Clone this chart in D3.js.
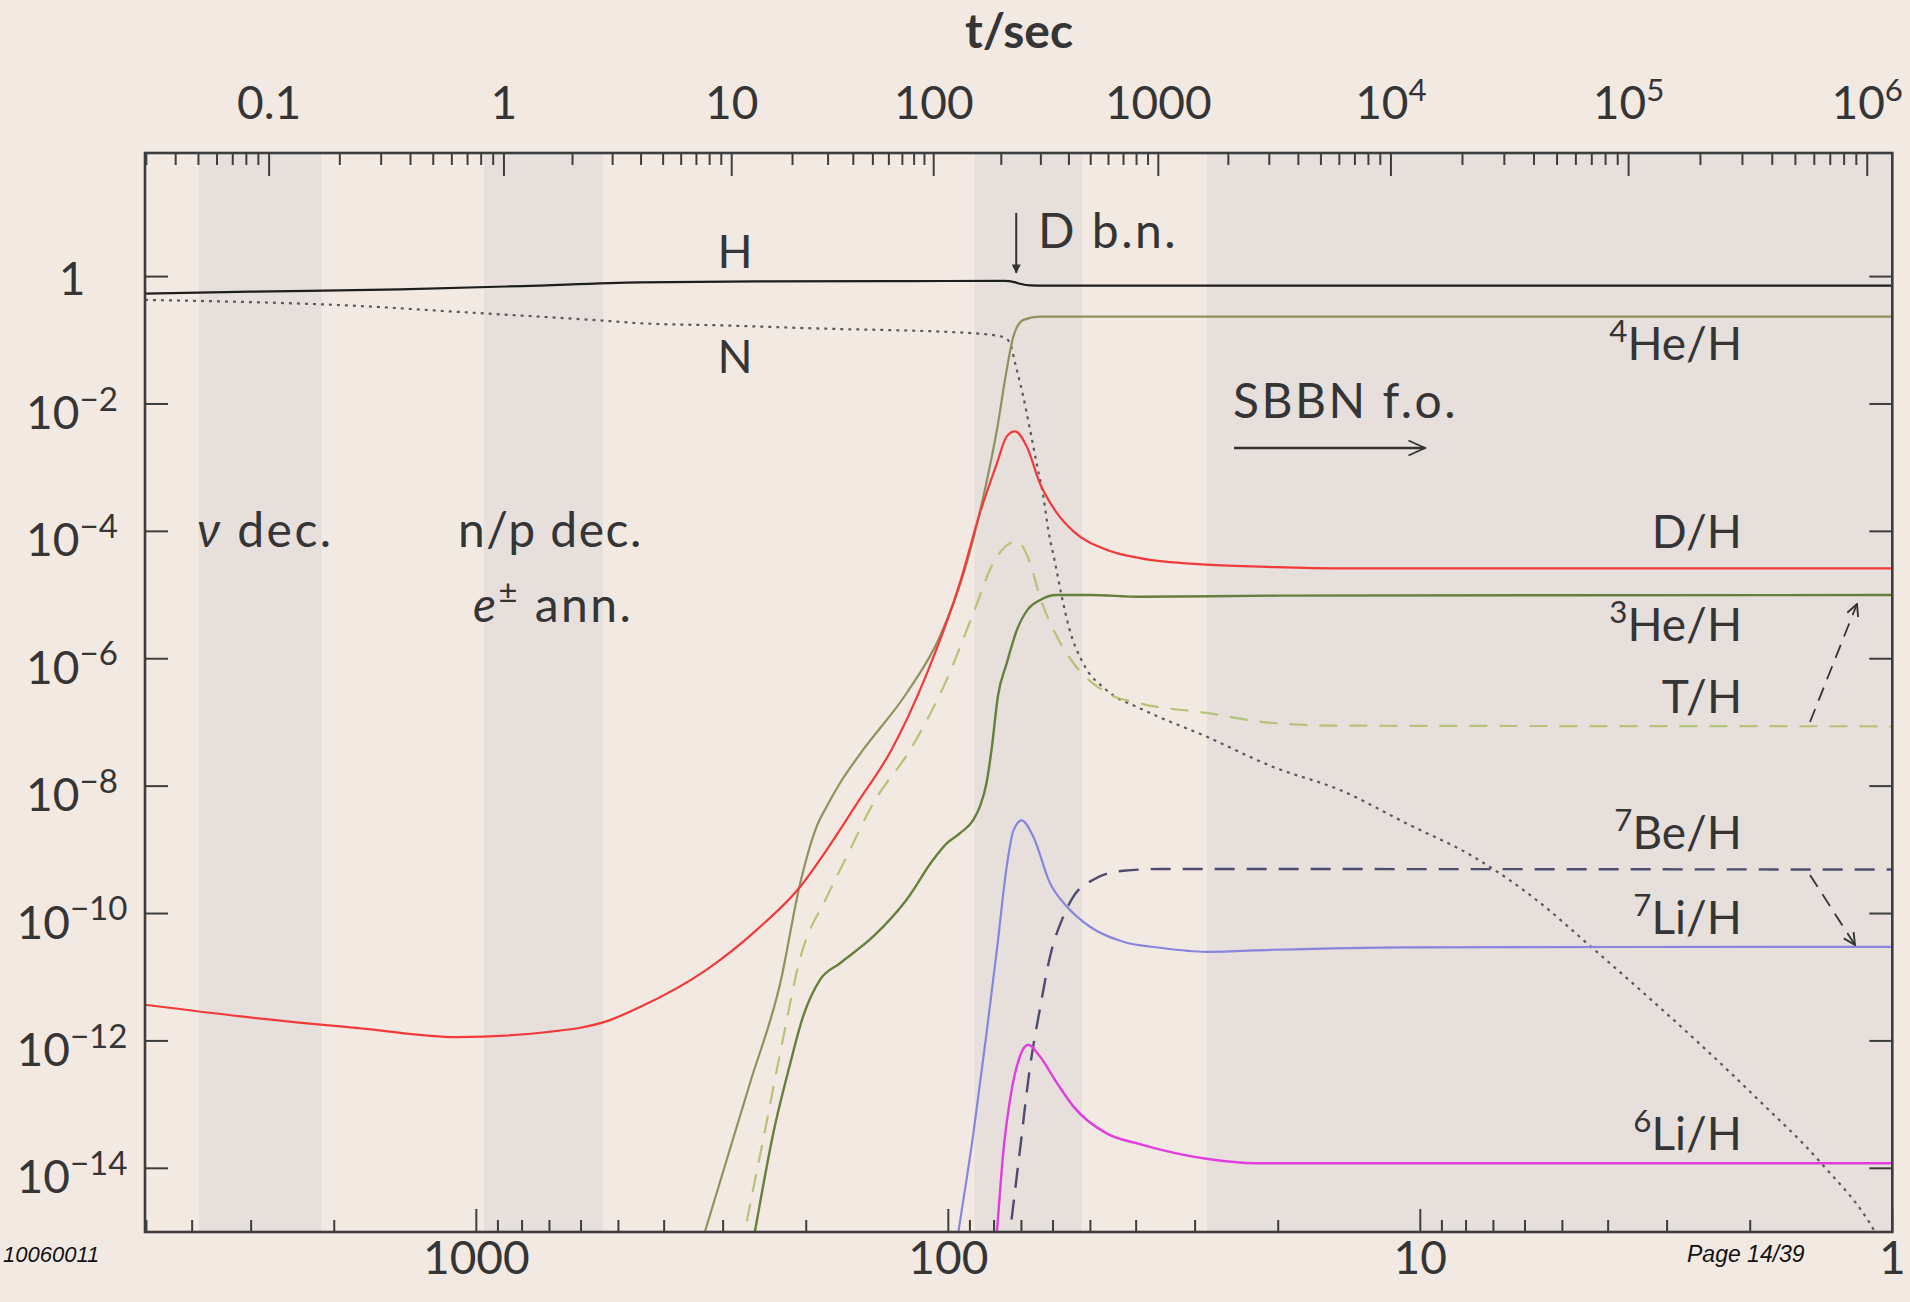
<!DOCTYPE html>
<html><head><meta charset="utf-8">
<script src="https://cdn.jsdelivr.net/npm/d3@7"></script>
<style>
html,body{margin:0;padding:0;background:#f3e9e3;}
svg{display:block;}
text{font-family:Lato,"Open Sans","DejaVu Sans",sans-serif;fill:#353535;}
</style></head><body>
<svg id="chart" width="1910" height="1302"></svg>
<script>
// ---------------- data (temperature T in keV, abundance) ----------------
const tempTicksKeV = [1000, 100, 10, 1];
const tempTickLabels = ["1000", "100", "10", "1"];
const timeTicksSec = [0.1, 1, 10, 100, 1000, 1e4, 1e5, 1e6];
const timeTickTempKeV = [2748, 874, 287.7, 107.4, 35.9, 11.54, 3.62, 1.13];
const timeTickLabels = [["0.1"], ["1"], ["10"], ["100"], ["1000"], ["10", "4"], ["10", "5"], ["10", "6"]];
const yTickValues = [1, 1e-2, 1e-4, 1e-6, 1e-8, 1e-10, 1e-12, 1e-14];
const yTickExponents = [0, -2, -4, -6, -8, -10, -12, -14];
const shadedBandsKeV = [[3868, 2128], [964, 539], [88, 52.1], [28.3, 1]];

const seriesH = [[5035,0.54],[3000,0.58],[1450,0.63],[800,0.71],[450,0.81],[250,0.84],[120,0.85],[76,0.855],[72.5,0.82],[70.5,0.77],[67,0.725],[62,0.72],[1,0.72]];
const seriesN = [[5035,0.43],[1700,0.34],[1100,0.28],[523,0.2],[450,0.185],[290,0.17],[200,0.155],[88.5,0.129],[76.4,0.112],[74,0.09],[72.2,0.0438],[69.4,0.0132],[67.1,3.9e-3],[65,1.17e-3],[62.9,3.5e-4],[61.4,1.05e-4],[59.4,3.2e-5],[57.5,9.5e-6],[55.3,2.8e-6],[51.8,8.5e-7],[46.2,3.2e-7],[39.2,1.66e-7],[28.4,6.0e-8],[20.5,2.0e-8],[14.8,8.7e-9],[10.7,2.6e-9],[7.72,7.8e-10],[5.58,1.48e-10],[4.37,3.1e-11],[3.42,6.3e-12],[2.555,8.9e-13],[1.906,1.12e-13],[1.423,1.26e-14],[1.088,1.0e-15],[1,3e-16]];
const seriesD = [[5035,3.7e-12],[3112,2.4e-12],[1718,1.55e-12],[1101,1.15e-12],[705,1.38e-12],[523,2.1e-12],[450,3.4e-12],[325,1.32e-11],[255,5.5e-11],[206,2.63e-10],[181,1.0e-9],[156,5.4e-9],[132,3.7e-8],[111,5.9e-7],[94.5,1.55e-5],[85.7,1.95e-4],[78.9,1.17e-3],[75.2,3.1e-3],[72.2,3.7e-3],[68.2,2.14e-3],[64,5.75e-4],[58.9,1.95e-4],[54.3,1.0e-4],[46.1,5.1e-5],[39.3,3.8e-5],[28.4,3.0e-5],[20.5,2.75e-5],[14.8,2.63e-5],[1,2.63e-5]];
const seriesHe4 = [[370,5e-17],[328,1e-15],[263,2.2e-13],[227,8.1e-12],[206,3.0e-10],[190,2.34e-9],[181,4.8e-9],[169.6,1.12e-8],[151.6,3.7e-8],[122.5,2.9e-7],[104.2,2.24e-6],[91.4,3.2e-5],[84.3,3.5e-4],[78.9,3.9e-3],[75.2,0.0347],[72.8,0.115],[69.3,0.209],[64,0.235],[1,0.235]];
const seriesT = [[290,6e-17],[270,1e-15],[243,5e-14],[224.5,1e-12],[206,2e-11],[181,1.8e-10],[164,8e-10],[144,5.5e-9],[120.5,3.7e-8],[100.8,4.7e-7],[88.5,5.2e-6],[80.3,3.2e-5],[74,6.5e-5],[71.6,6.9e-5],[67.1,3.2e-5],[64,9.5e-6],[58.9,2.24e-6],[54.3,8.5e-7],[46.1,2.9e-7],[39.3,2.0e-7],[28.4,1.41e-7],[20.5,9.8e-8],[14.8,8.9e-8],[1,8.7e-8]];
const seriesHe3 = [[276,5e-17],[257,1e-15],[235,3.5e-14],[217,4.0e-13],[203,2.45e-12],[187,9.1e-12],[169.6,1.66e-11],[144,4.4e-11],[122.5,1.66e-10],[107.8,6.9e-10],[100.8,1.26e-9],[94.5,1.82e-9],[88.5,2.95e-9],[85.7,4.8e-9],[83,1.12e-8],[81,3.7e-8],[78.5,2.6e-7],[75.2,8.5e-7],[71.6,2.8e-6],[67.9,5.9e-6],[64,8.3e-6],[58.9,1.0e-5],[50.1,1.0e-5],[39.3,9.4e-6],[20,9.8e-6],[1,1.0e-5]];
const seriesBe7 = [[77.7,5e-17],[74,1e-15],[70.5,1.95e-14],[67.1,4.0e-13],[64,3.1e-12],[60.9,2.1e-11],[57.1,8.9e-11],[54.3,1.86e-10],[49.3,3.4e-10],[42.6,4.7e-10],[35.6,5.0e-10],[1,4.9e-10]];
const seriesLi7 = [[101.6,4e-17],[95.2,1e-15],[88.5,3.5e-14],[83,1.32e-12],[78.9,2.7e-11],[75.2,5.5e-10],[72.8,2.0e-9],[69.9,2.9e-9],[66.1,1.62e-9],[60.9,3.0e-10],[56.1,1.29e-10],[50.1,6.2e-11],[42.6,3.6e-11],[35.6,2.9e-11],[28.4,2.5e-11],[20.5,2.7e-11],[10.7,2.95e-11],[1,3.0e-11]];
const seriesLi6 = [[81.6,5e-17],[78.9,1e-15],[76.4,1.95e-14],[74,1.2e-13],[70.5,5.75e-13],[67.7,8.7e-13],[64,5.75e-13],[58.9,2.2e-13],[54.3,9.3e-14],[46.1,3.5e-14],[39.3,2.4e-14],[28.4,1.41e-14],[22.3,1.2e-14],[1,1.2e-14]];

// ---------------- styles ----------------
const seriesStyles = [
  {data: seriesN,   color: "#5a5a5a", width: 2.2, dash: "3,5"},
  {data: seriesH,   color: "#1e1e1e", width: 2.2, dash: null},
  {data: seriesHe4, color: "#8f915e", width: 2.2, dash: null},
  {data: seriesT,   color: "#b7c27a", width: 2.2, dash: "18,12"},
  {data: seriesHe3, color: "#677f3c", width: 2.4, dash: null},
  {data: seriesD,   color: "#f23a3a", width: 2.2, dash: null},
  {data: seriesBe7, color: "#4e4c6c", width: 2.4, dash: "20,12"},
  {data: seriesLi7, color: "#8985dc", width: 2.2, dash: null},
  {data: seriesLi6, color: "#e03ede", width: 2.4, dash: null}
];
const BG = "#f3e9e3", BAND = "#e6dfdc", AXIS = "#3d3d3d";
const L = 145, R = 1892.3, TOP = 153, BOT = 1232;

const svg = d3.select("#chart");
svg.append("rect").attr("width",1910).attr("height",1302).attr("fill",BG);

const x = d3.scaleLog().domain([5035, 1]).range([L, R]);
const y = d3.scaleLog().domain([1e-15, 87.1]).range([BOT, TOP]);
// time axis: piecewise log scale through the read (t, T) pairs
const tScale = d3.scaleLog().domain(timeTicksSec).range(timeTickTempKeV.map(x));

svg.append("defs").append("clipPath").attr("id","plotclip")
  .append("rect").attr("x",L).attr("y",TOP).attr("width",R-L).attr("height",BOT-TOP);

// bands
svg.append("g").selectAll("rect").data(shadedBandsKeV).join("rect")
  .attr("x", d => x(d[0])).attr("width", d => x(d[1]) - x(d[0]))
  .attr("y", TOP).attr("height", BOT-TOP).attr("fill", BAND);

// curves
const line = d3.line().x(d => x(d[0])).y(d => y(d[1])).curve(d3.curveMonotoneX);
const cg = svg.append("g").attr("clip-path","url(#plotclip)");
seriesStyles.forEach(s => {
  cg.append("path").attr("d", line(s.data)).attr("fill","none")
    .attr("stroke", s.color).attr("stroke-width", s.width)
    .attr("stroke-dasharray", s.dash).attr("stroke-linejoin","round");
});

// frame
svg.append("rect").attr("x",L).attr("y",TOP).attr("width",R-L).attr("height",BOT-TOP)
  .attr("fill","none").attr("stroke",AXIS).attr("stroke-width",2.6);

const ticks = svg.append("g").attr("stroke",AXIS).attr("stroke-width",2);
const MAJ = 23, MIN = 12;
// bottom ticks (temperature)
const tempMinor = [];
[1,10,100,1000].forEach(dec => { for (let m=2;m<=9;m++) tempMinor.push(m*dec); });
tempMinor.filter(v => x(v) >= L && x(v) <= R).forEach(v => {
  ticks.append("line").attr("x1",x(v)).attr("x2",x(v)).attr("y1",BOT).attr("y2",BOT-MIN);
});
tempTicksKeV.forEach(v => ticks.append("line").attr("x1",x(v)).attr("x2",x(v)).attr("y1",BOT).attr("y2",BOT-MAJ));
// top ticks (time)
const timeMinor = [];
[0.01,0.1,1,10,100,1000,1e4,1e5,1e6].forEach(dec => { for (let m=2;m<=9;m++) timeMinor.push(m*dec); });
timeMinor.filter(v => tScale(v) >= L-1 && tScale(v) <= R).forEach(v => {
  ticks.append("line").attr("x1",tScale(v)).attr("x2",tScale(v)).attr("y1",TOP).attr("y2",TOP+MIN);
});
timeTicksSec.forEach(v => ticks.append("line").attr("x1",tScale(v)).attr("x2",tScale(v)).attr("y1",TOP).attr("y2",TOP+MAJ));
// y ticks both sides
yTickValues.forEach(v => {
  ticks.append("line").attr("x1",L).attr("x2",L+MAJ).attr("y1",y(v)).attr("y2",y(v));
  ticks.append("line").attr("x1",R).attr("x2",R-MAJ).attr("y1",y(v)).attr("y2",y(v));
});

// text helper
function richText(g, parts, px, py, anchor, size, extra, supScale) {
  const ss = supScale || 0.68;
  const t = g.append("text").attr("x",px).attr("y",py).attr("text-anchor",anchor)
    .style("font-size", size+"px");
  let up = 0;
  parts.forEach(p => {
    const ts = t.append("tspan").text(p.t);
    if (p.sup) { ts.attr("dy", -0.4*size).style("font-size", (ss*size)+"px"); up = 0.4*size; }
    else if (up) { ts.attr("dy", up); up = 0; }
    if (p.it) ts.style("font-style","italic");
  });
  if (extra) extra(t);
  return t;
}
const tg = svg.append("g");
const FS = 46;
const wide = t => t.style("letter-spacing","2.5px");

// axis labels
richText(tg, [{t:"t/sec"}], 1019, 48, "middle", 48, t => t.style("font-weight","bold"));
timeTicksSec.forEach((v,i) => {
  const lab = timeTickLabels[i];
  const parts = [{t: lab[0]}];
  if (lab[1]) parts.push({t: lab[1], sup: true});
  richText(tg, parts, tScale(v), 119, "middle", FS);
});
tempTicksKeV.forEach((v,i) => richText(tg, [{t: tempTickLabels[i]}], x(v), 1274, "middle", FS));
yTickValues.forEach((v,i) => {
  const e = yTickExponents[i];
  if (e === 0) richText(tg, [{t:"1"}], 72, y(v)+18, "middle", FS);
  else richText(tg, [{t:"10"},{t:"\u2212"+(-e), sup:true}], 72, y(v)+25, "middle", FS, null, 0.72);
});

// annotations
richText(tg, [{t:"H"}], 735, 268, "middle", FS);
richText(tg, [{t:"N"}], 735, 373, "middle", FS);
richText(tg, [{t:"D b.n."}], 1038, 248, "start", 48, wide);
richText(tg, [{t:"\u03bd", it:true},{t:" dec."}], 197, 547, "start", 48, wide);
richText(tg, [{t:"n/p dec."}], 458, 547, "start", 48, t => t.style("letter-spacing","1.5px"));
richText(tg, [{t:"e", it:true},{t:"\u00b1", sup:true},{t:" ann."}], 473, 622, "start", 48, wide);
richText(tg, [{t:"SBBN f.o."}], 1233, 418, "start", 48, wide);

const rightLabels = [
  {sup:"4", t:"He/H", yy:360}, {sup:"", t:"D/H", yy:548}, {sup:"3", t:"He/H", yy:641},
  {sup:"", t:"T/H", yy:713}, {sup:"7", t:"Be/H", yy:849}, {sup:"7", t:"Li/H", yy:934},
  {sup:"6", t:"Li/H", yy:1150}
];
rightLabels.forEach(l => {
  const parts = l.sup ? [{t:l.sup, sup:true},{t:l.t}] : [{t:l.t}];
  richText(tg, parts, 1742, l.yy, "end", FS);
});

// arrows
const defs = svg.select("defs");
defs.append("marker").attr("id","open").attr("viewBox","0 0 12 12").attr("refX",11).attr("refY",6)
  .attr("markerWidth",14).attr("markerHeight",14).attr("markerUnits","userSpaceOnUse").attr("orient","auto")
  .append("path").attr("d","M1,1 L11,6 L1,11").attr("fill","none").attr("stroke","#333").attr("stroke-width",1.6);
defs.append("marker").attr("id","openbig").attr("viewBox","0 0 12 12").attr("refX",11).attr("refY",6)
  .attr("markerWidth",24).attr("markerHeight",18).attr("markerUnits","userSpaceOnUse").attr("orient","auto")
  .append("path").attr("d","M0,1 L11,6 L0,11").attr("fill","none").attr("stroke","#333").attr("stroke-width",1.2);
defs.append("marker").attr("id","fill").attr("viewBox","0 0 12 12").attr("refX",11).attr("refY",6)
  .attr("markerWidth",18).attr("markerHeight",9).attr("markerUnits","userSpaceOnUse").attr("orient","auto")
  .append("path").attr("d","M0,0 L12,6 L0,12 Z").attr("fill","#333");

const ag = svg.append("g").attr("stroke","#333").attr("fill","none");
ag.append("line").attr("x1",x(71.8)).attr("x2",x(71.8)).attr("y1",y(10)).attr("y2",y(1.15))
  .attr("stroke-width",2).attr("marker-end","url(#fill)");
ag.append("line").attr("x1",1234).attr("x2",1425).attr("y1",448).attr("y2",448)
  .attr("stroke-width",2.4).attr("marker-end","url(#openbig)");
ag.append("line").attr("x1",1810).attr("y1",722).attr("x2",1857).attr("y2",604)
  .attr("stroke-width",1.8).attr("stroke-dasharray","14,9").attr("marker-end","url(#open)");
ag.append("line").attr("x1",1810).attr("y1",875).attr("x2",1855).attr("y2",945)
  .attr("stroke-width",1.8).attr("stroke-dasharray","14,9").attr("marker-end","url(#open)");

// footer
tg.append("text").attr("x",3).attr("y",1262).attr("text-anchor","start")
  .style("font-family","'Liberation Sans',Arial,sans-serif").style("font-style","italic")
  .style("font-size","22px").style("fill","#111").text("10060011");
tg.append("text").attr("x",1687).attr("y",1262)
  .style("font-family","'Liberation Sans',Arial,sans-serif").style("font-style","italic")
  .style("font-size","23px").style("fill","#111").text("Page 14/39");
</script>
</body></html>
